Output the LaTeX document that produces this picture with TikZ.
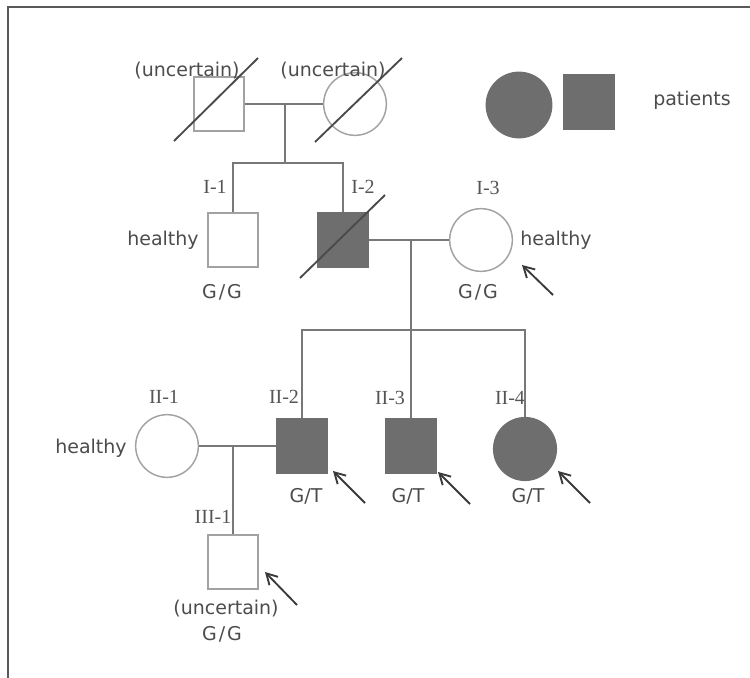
\documentclass[tikz,border=0pt]{standalone}
\usepackage{fontspec}
\setmainfont{Liberation Serif}
\newfontfamily\notefont{DejaVu Sans}
\usepackage{xcolor}
\usepackage{tikz}
\usetikzlibrary{arrows.meta, calc}

\definecolor{shapeline}{HTML}{A2A2A2}
\definecolor{sickgray}{HTML}{6E6E6E}
\definecolor{relline}{HTML}{787878}
\definecolor{slashline}{HTML}{4A4A4A}
\definecolor{tagtext}{HTML}{555555}
\definecolor{notetext}{HTML}{4C4C4C}
\definecolor{arrowline}{HTML}{3A3A3A}
\definecolor{frameline}{HTML}{5A5A5A}

\begin{document}
\begin{tikzpicture}[x=0.75pt, y=-0.75pt,
    male/.style={draw=shapeline, line width=1.1pt, minimum width=37.5pt, minimum height=40.5pt, inner sep=0pt},
    female/.style={circle, draw=shapeline, line width=1.1pt, minimum size=47pt, inner sep=0pt},
    sick/.style={fill=sickgray, draw=sickgray},
    rel/.style={draw=relline, line width=1.6pt},
    slash/.style={draw=slashline, line width=1.4pt},
    tag/.style={font=\fontsize{15}{18}\selectfont, text=tagtext, inner sep=0pt},
    note/.style={font=\notefont\fontsize{14.25}{17}\selectfont, text=notetext, inner sep=0pt},
    pointer/.style={-{Straight Barb[length=8pt, width=9pt]}, line width=1.4pt, draw=arrowline}]
  \useasboundingbox (0,0) rectangle (750,678);
  \draw[frameline, line width=1.6pt] (8,678) -- (8,7) -- (750,7);

  % generation 0
  \node[male] (g0m) at (219,104) {};
  \node[female] (g0f) at (355,104) {};
  \node[note] (u0m) at (187,71) {(uncertain)};
  \node[note] (u0f) at (333,71) {(uncertain)};
  \draw[slash] ($(g0m.center)+(-45,37)$) -- ($(g0m.center)+(39,-46)$);
  \draw[slash] ($(g0f.center)+(-40,38)$) -- ($(g0f.center)+(47,-46)$);

  % legend
  \node[female, sick, minimum size=49pt] (keyf) at (519,105) {};
  \node[male, sick] (keym) at (589,102) {};
  \node[note] (keytxt) at (692,100) {patients};

  % generation I
  \node[male] (i1) at (233,240) {};
  \node[male, sick] (i2) at (343,240) {};
  \node[female] (i3) at (481,240) {};
  \node[tag] (l1) at (215,187) {I-1};
  \node[tag] (l2) at (363,187) {I-2};
  \node[tag] (l3) at (488,188) {I-3};
  \node[note] (h1) at (163,240) {healthy};
  \node[note] (h3) at (556,240) {healthy};
  \node[note] (gi1) at (222,292) {G\kern1.5pt/\kern1.5pt G};
  \node[note] (gi3) at (478,292) {G\kern1.5pt/\kern1.5pt G};
  \draw[slash] ($(i2.center)+(-43,38)$) -- ($(i2.center)+(42,-45)$);

  \coordinate (k0) at (285,104);
  \coordinate (s0) at (285,163);
  \draw[rel] (g0m) -- (g0f);
  \draw[rel] (k0) -- (s0);
  \draw[rel] (i1.north) |- (s0) -| (i2.north);

  % generation II
  \node[female] (ii1) at (167,446) {};
  \node[male, sick] (ii2) at (302,446) {};
  \node[male, sick] (ii3) at (411,446) {};
  \node[female, sick] (ii4) at (525,449) {};
  \node[tag] (lii1) at (164,397) {II-1};
  \node[tag] (lii2) at (284,397) {II-2};
  \node[tag] (lii3) at (390,398) {II-3};
  \node[tag] (lii4) at (510,398) {II-4};
  \node[note] (hii1) at (91,448) {healthy};
  \node[note] (gii2) at (306,496) {G/T};
  \node[note] (gii3) at (408,496) {G/T};
  \node[note] (gii4) at (528,496) {G/T};

  \coordinate (k1) at (411,240);
  \coordinate (s1) at (411,330);
  \draw[rel] (i2) -- (i3);
  \draw[rel] (k1) -- (s1) -- (ii3.north);
  \draw[rel] (ii2.north) |- (s1) -| (ii4.north);

  % generation III
  \node[male] (iii1) at (233,562) {};
  \node[tag] (liii1) at (213,517) {III-1};
  \node[note] (uiii1) at (226,609) {(uncertain)};
  \node[note] (giii1) at (222,634) {G\kern1.5pt/\kern1.5pt G};

  \coordinate (k2) at (233,446);
  \draw[rel] (ii1) -- (ii2);
  \draw[rel] (k2) -- (iii1.north);

  % probands
  \draw[pointer] ($(i3.center)+(72,55)$) -- ($(i3.center)+(41,25)$);
  \draw[pointer] ($(ii2.center)+(63,57)$) -- ($(ii2.center)+(31,25)$);
  \draw[pointer] ($(ii3.center)+(59,58)$) -- ($(ii3.center)+(27,26)$);
  \draw[pointer] ($(ii4.center)+(65,54)$) -- ($(ii4.center)+(33,22)$);
  \draw[pointer] ($(iii1.center)+(64,43)$) -- ($(iii1.center)+(32,10)$);
\end{tikzpicture}
\end{document}
